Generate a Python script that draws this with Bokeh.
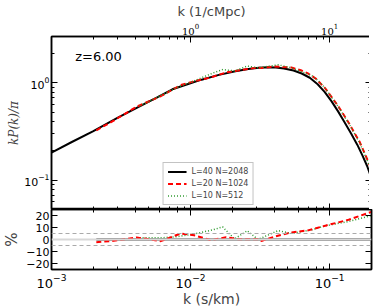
from bokeh.plotting import figure
from bokeh.models import Range1d, LogScale, LogAxis, LinearAxis, FixedTicker, Span, Label
from bokeh.layouts import column
from bokeh.embed import file_html
from bokeh.resources import INLINE

# ---- data ----
k_black = [0.001, 0.0014, 0.002, 0.003, 0.0042, 0.0058, 0.0074, 0.0095, 0.012, 0.016,
           0.021, 0.026, 0.031, 0.036, 0.041, 0.047, 0.055, 0.063, 0.072, 0.082,
           0.092, 0.103, 0.115, 0.128, 0.143, 0.158, 0.172, 0.186, 0.2]
kp_black = [0.192, 0.247, 0.320, 0.44, 0.565, 0.715, 0.86, 0.97, 1.08, 1.21,
            1.32, 1.39, 1.435, 1.45, 1.44, 1.41, 1.34, 1.25, 1.13, 0.97,
            0.81, 0.65, 0.51, 0.395, 0.30, 0.232, 0.180, 0.140, 0.105]

k_red = [0.0021, 0.0028, 0.0041, 0.0061, 0.0085, 0.0106, 0.014, 0.018, 0.022, 0.0305,
         0.0323, 0.040, 0.053, 0.062, 0.070, 0.080, 0.093, 0.115, 0.137, 0.165, 0.2]
kp_red = [0.325, 0.41, 0.57, 0.73, 0.95, 1.04, 1.14, 1.28, 1.34, 1.44,
          1.42, 1.475, 1.44, 1.35, 1.25, 1.10, 0.88, 0.58, 0.39, 0.245, 0.130]

k_green = [0.0043, 0.0061, 0.008, 0.0106, 0.0144, 0.017, 0.0207, 0.0256, 0.0305,
           0.0426, 0.0531, 0.0743, 0.085, 0.093, 0.115, 0.137, 0.165, 0.2]
kp_green = [0.58, 0.74, 0.90, 1.05, 1.26, 1.37, 1.33, 1.49, 1.43,
            1.535, 1.43, 1.19, 1.02, 0.88, 0.575, 0.385, 0.24, 0.126]

# percentage difference relative to L=40 N=2048
k_red_pct = [0.0021, 0.0028, 0.0041, 0.0061, 0.0085, 0.0106, 0.014, 0.018, 0.022, 0.0305,
             0.0323, 0.040, 0.053, 0.070, 0.093, 0.137, 0.2]
pct_red = [-2.2, -1.1, 1.7, -1.4, 5.0, 3.5, -0.5, 1.8, 0.3, 0.3,
           -1.2, 2.3, 5.9, 7.6, 11.5, 16.5, 23.0]
k_green_pct = [0.0043, 0.0061, 0.008, 0.0106, 0.0144, 0.017, 0.0207, 0.0256, 0.0305,
               0.0426, 0.0531, 0.0743, 0.093, 0.137, 0.2]
pct_green = [1.4, 1.4, 2.3, 4.6, 8.0, 10.5, 0.5, 7.3, 0.0,
             7.4, 5.1, 8.0, 11.4, 15.0, 20.0]
k_ref = [0.0021, 0.2]
pct_ref = [0.0, 0.0]

series_labels = ["L=40 N=2048", "L=20 N=1024", "L=10 N=512"]
redshift_text = "z=6.00"

FONT = "DejaVu Sans"
GREEN = "#2e9a2e"


def style_axis(ax, labels=True, size="11px", font=FONT):
    ax.major_tick_in = 6
    ax.major_tick_out = 0
    ax.minor_tick_in = 3
    ax.minor_tick_out = 0
    ax.axis_line_width = 1.5
    ax.axis_line_color = "black"
    ax.major_tick_line_color = "black"
    ax.minor_tick_line_color = "black"
    if labels:
        ax.major_label_text_font_size = size
        ax.major_label_text_font = font
        ax.major_label_text_color = "black"
        ax.major_label_standoff = 2
    else:
        ax.major_label_text_font_size = "1px"
        ax.major_label_text_color = None
        ax.major_label_standoff = 0
        ax.axis_label = None
        ax.axis_label_standoff = 0


def log_minor(exps):
    return [m * 10 ** e for e in exps for m in range(2, 10)]


xr = Range1d(0.001, 0.2)

# ---- main panel ----
p1 = figure(x_axis_type="log", y_axis_type="log", x_range=xr, y_range=Range1d(0.05, 3.0),
            frame_width=320, frame_height=173,
            min_border_left=42, min_border_right=2, min_border_top=29, min_border_bottom=0,
            output_backend="svg", toolbar_location=None)
p1.grid.visible = False
p1.outline_line_color = "black"
p1.outline_line_width = 1.5

style_axis(p1.xaxis[0], labels=False)
p1.yaxis[0].ticker = FixedTicker(ticks=[0.1, 1], minor_ticks=log_minor((-2, -1, 0)))
style_axis(p1.yaxis[0], labels=True, size="11px")
p1.yaxis[0].axis_label = "kP(k)/π"
p1.yaxis[0].axis_label_text_font = "DejaVu Serif"
p1.yaxis[0].axis_label_text_font_style = "italic"
p1.yaxis[0].axis_label_text_font_size = "12px"
p1.yaxis[0].axis_label_standoff = 0

p1.extra_x_ranges = {"cmpc": Range1d(0.1, 20)}
p1.extra_x_scales = {"cmpc": LogScale()}
top_ax = LogAxis(x_range_name="cmpc",
                 ticker=FixedTicker(ticks=[1, 10], minor_ticks=log_minor((-1, 0, 1))))
style_axis(top_ax, labels=True, size="10px", font="DejaVu Serif")
top_ax.major_label_standoff = 2
top_ax.axis_label = "k (1/cMpc)"
top_ax.axis_label_text_font = FONT
top_ax.axis_label_text_font_style = "normal"
top_ax.axis_label_text_font_size = "13px"
top_ax.axis_label_standoff = 2
p1.add_layout(top_ax, "above")

right_ax = LogAxis(ticker=FixedTicker(ticks=[0.1, 1], minor_ticks=log_minor((-2, -1, 0))))
style_axis(right_ax, labels=False)
p1.add_layout(right_ax, "right")

p1.line(k_black, kp_black, color="black", line_width=2, legend_label=series_labels[0])
p1.line(k_red, kp_red, color="red", line_width=2, line_dash="5 3", legend_label=series_labels[1])
p1.line(k_green, kp_green, color=GREEN, line_width=1.5, line_dash="1 2", legend_label=series_labels[2])

p1.add_layout(Label(x=0.00148, y=1.89, text=redshift_text, text_font=FONT,
                    text_font_size="13px", text_baseline="middle", text_color="black"))

lg = p1.legend[0]
lg.location = "bottom_center"
lg.label_text_font = FONT
lg.label_text_font_size = "8px"
lg.label_height = 9
lg.glyph_height = 9
lg.glyph_width = 19
lg.spacing = 3
lg.padding = 4
lg.margin = 4
lg.label_standoff = 5
lg.border_line_color = "#888888"
lg.border_line_width = 1
lg.background_fill_alpha = 1

# ---- ratio panel ----
p2 = figure(x_axis_type="log", x_range=xr, y_range=Range1d(-25, 25),
            frame_width=320, frame_height=60,
            min_border_left=42, min_border_right=2, min_border_top=0, min_border_bottom=28,
            output_backend="svg", toolbar_location=None)
p2.grid.visible = False
p2.outline_line_color = "black"
p2.outline_line_width = 1.5

pct_ticks = [-20, -10, 0, 10, 20]
style_axis(p2.xaxis[0], labels=True, size="13px")
p2.xaxis[0].major_label_standoff = 4
p2.xaxis[0].axis_label = "k (s/km)"
p2.xaxis[0].axis_label_text_font = FONT
p2.xaxis[0].axis_label_text_font_style = "normal"
p2.xaxis[0].axis_label_text_font_size = "14px"
p2.xaxis[0].axis_label_standoff = 0

p2.yaxis[0].ticker = FixedTicker(ticks=pct_ticks, minor_ticks=[])
style_axis(p2.yaxis[0], labels=True, size="11px")
p2.yaxis[0].axis_label = "%"
p2.yaxis[0].axis_label_text_font = FONT
p2.yaxis[0].axis_label_text_font_style = "normal"
p2.yaxis[0].axis_label_text_font_size = "15px"
p2.yaxis[0].axis_label_standoff = 2

r2 = LinearAxis(ticker=FixedTicker(ticks=pct_ticks, minor_ticks=[]))
style_axis(r2, labels=False)
p2.add_layout(r2, "right")
t2 = LogAxis()
style_axis(t2, labels=False)
p2.add_layout(t2, "above")

p2.add_layout(Span(location=0, dimension="width", line_color="#d8d8d8", line_width=2))
for lvl in (5, -5):
    p2.add_layout(Span(location=lvl, dimension="width", line_color="#aaaaaa",
                       line_width=1, line_dash="4 3"))

p2.line(k_ref, pct_ref, color="black", line_width=2)
p2.line(k_green_pct, pct_green, color=GREEN, line_width=1.5, line_dash="1 2")
p2.line(k_red_pct, pct_red, color="red", line_width=2, line_dash="5 3")

layout = column(p1, p2, spacing=0)
open("out.html", "w").write(file_html(layout, INLINE))
